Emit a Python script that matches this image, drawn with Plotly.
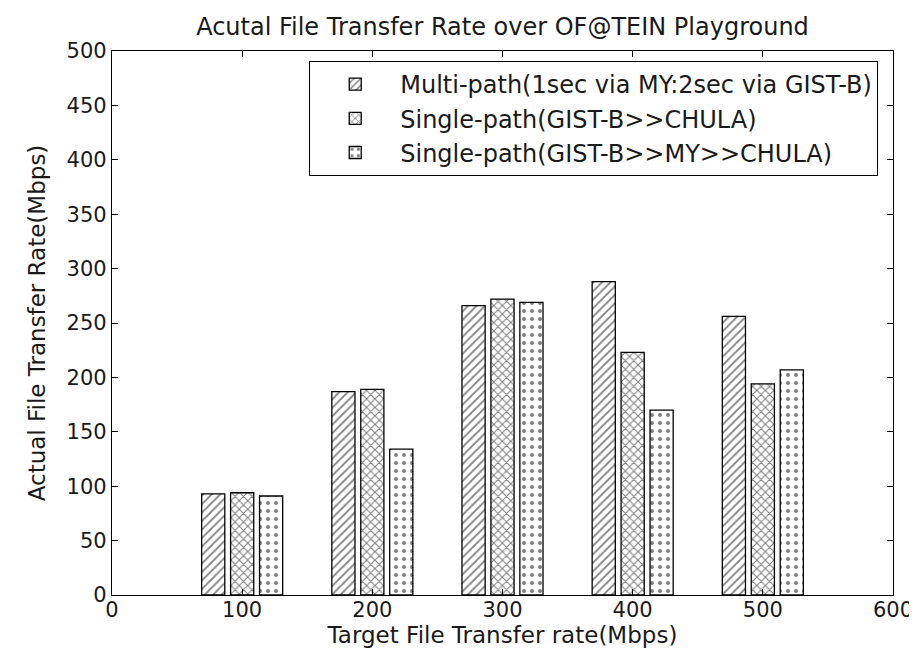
import plotly.graph_objects as go

targets = [100, 200, 300, 400, 500]
multi_path = [93, 187, 266, 288, 256]
single_chula = [94, 189, 272, 223, 194]
single_my_chula = [91, 134, 269, 170, 207]

names = [
    "Multi-path(1sec via MY:2sec via GIST-B)",
    "Single-path(GIST-B>>CHULA)",
    "Single-path(GIST-B>>MY>>CHULA)",
]
x_ticks = [0, 100, 200, 300, 400, 500, 600]
y_ticks = list(range(0, 501, 50))

FONT = "DejaVu Sans"
TXT = "#1a1a1a"

fig = go.Figure()
for name, vals, shape, size, sol in zip(
        names, [multi_path, single_chula, single_my_chula],
        ["/", "x", "."], [6, 6, 8], [0.3, 0.32, 0.2]):
    fig.add_trace(go.Bar(
        x=targets, y=vals, name=name,
        marker=dict(color="white",
                    line=dict(color="black", width=1.3),
                    pattern=dict(shape=shape, fgcolor="black", bgcolor="white",
                                 size=size, solidity=sol, fillmode="overlay")),
    ))

axis_common = dict(
    showline=True, linecolor="black", linewidth=1.3, mirror="ticks",
    ticks="inside", ticklen=6, tickcolor="black", tickwidth=1,
    showgrid=False, zeroline=False,
    tickfont=dict(family=FONT, size=21, color=TXT),
)

fig.update_layout(
    width=917, height=650,
    margin=dict(l=104, r=25, t=43, b=63),
    paper_bgcolor="white", plot_bgcolor="white",
    barmode="group", bargap=0.333, bargroupgap=0.2,
    title=dict(text="Acutal File Transfer Rate over OF@TEIN Playground",
               xref="paper", x=0.5, xanchor="center",
               yref="container", y=0.9715, yanchor="middle",
               font=dict(family=FONT, size=24, color=TXT)),
    xaxis=dict(range=[0, 600], tickvals=x_ticks, ticklabelstandoff=-4,
               title=dict(text="Target File Transfer rate(Mbps)", standoff=0,
                          font=dict(family=FONT, size=23, color=TXT)),
               **axis_common),
    yaxis=dict(range=[0, 500], tickvals=y_ticks,
               title=dict(text="Actual File Transfer Rate(Mbps)", standoff=14,
                          font=dict(family=FONT, size=23, color=TXT)),
               **axis_common),
    legend=dict(x=(303 - 104) / 788, y=(587 - 53) / 544, xanchor="left", yanchor="top",
                bgcolor="white", bordercolor="black", borderwidth=1,
                font=dict(family=FONT, size=24, color=TXT),
                itemwidth=80),
    showlegend=True,
)

fig.write_html("out.html")
